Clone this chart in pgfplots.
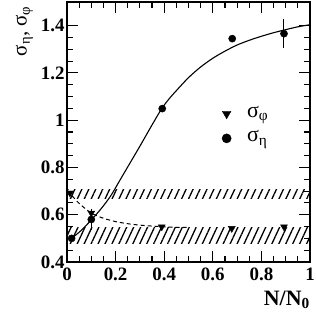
\documentclass[border=0pt]{standalone}
\usepackage{fontspec}
\setmainfont{Liberation Serif}
\usepackage{pgfplots}
\pgfplotsset{compat=1.18}
\usetikzlibrary{patterns.meta}
\begin{document}
\begin{tikzpicture}
\begin{axis}[
  scale only axis, width=243bp, height=260bp,
  xmin=0, xmax=1, ymin=0.4, ymax=1.5,
  xtick={0,0.2,0.4,0.6,0.8,1},
  ytick={0.4,0.6,0.8,1,1.2,1.4},
  minor x tick num=3, minor y tick num=3,
  tick align=inside, ticks=both,
  xtick pos=both, ytick pos=both,
  major tick length=11bp, minor tick length=6bp,
  axis line style={line width=1.3bp},
  every tick/.style={line width=1.1bp, black},
  /pgf/number format/assume math mode=true,
  tick label style={font=\bfseries\fontsize{19}{19}\selectfont},
  xticklabel style={yshift=-2bp},
  yticklabel style={xshift=1bp},
  clip=false,
]
% hatched bands
\addplot[draw=none, pattern={Lines[angle=65,distance=6.3bp,line width=1.3bp]}]
  coordinates {(0,0.67) (1,0.67) (1,0.708) (0,0.708)} -- cycle;
\addplot[draw=none, pattern={Lines[angle=65,distance=6.3bp,line width=1.3bp]}]
  coordinates {(0,0.48) (1,0.48) (1,0.548) (0,0.548)} -- cycle;
% dashed fit
\addplot[black, line width=1bp, dash pattern=on 4bp off 3bp, smooth] coordinates {
 (0,0.70) (0.012,0.69) (0.05,0.648) (0.1,0.607) (0.15,0.585) (0.2,0.571)
 (0.25,0.562) (0.3,0.556) (0.35,0.552) (0.4,0.549) (0.45,0.547) (0.5,0.546)};
% solid fit
\addplot[black, line width=1.1bp, smooth] coordinates {
 (0.019,0.50) (0.06,0.535) (0.1,0.578) (0.14,0.625) (0.18,0.68) (0.22,0.75)
 (0.26,0.82) (0.3,0.89) (0.35,0.98) (0.39,1.049) (0.42,1.09) (0.45,1.125)
 (0.5,1.18) (0.55,1.225) (0.6,1.262) (0.65,1.292) (0.7,1.318) (0.75,1.338)
 (0.8,1.355) (0.85,1.370) (0.9,1.383) (0.95,1.395) (1.0,1.404)};
% sigma_phi
\addplot[only marks, mark=triangle*, mark size=4bp, mark options={rotate=180, fill=black}]
 coordinates {(0.012,0.692) (0.1,0.607) (0.39,0.549) (0.678,0.542) (0.893,0.549)};
% sigma_eta
\addplot[only marks, mark=*, mark size=3.6bp, mark options={fill=black},
  error bars/.cd, y dir=both, y explicit, error mark=none,
  error bar style={line width=1bp}]
 coordinates {(0.019,0.50) +- (0,0) (0.10,0.58) +- (0,0.045) (0.392,1.049) +- (0,0)
   (0.68,1.345) +- (0,0) (0.893,1.366) +- (0,0.06)};
% legend
\addplot[only marks, mark=triangle*, mark size=5bp, mark options={rotate=180, fill=black}]
 coordinates {(0.657,1.027)};
\addplot[only marks, mark=*, mark size=4.6bp, mark options={fill=black}]
 coordinates {(0.657,0.923)};
\node[anchor=west, font=\fontsize{22}{22}\selectfont, inner sep=0] at (axis cs:0.74,1.022) {σ\textsubscript{φ}};
\node[anchor=west, font=\fontsize{22}{22}\selectfont, inner sep=0] at (axis cs:0.74,0.918) {σ\textsubscript{η}};
% labels
\node[anchor=north east, inner sep=0, font=\bfseries\fontsize{22}{22}\selectfont] at (rel axis cs:1,0) [yshift=-29bp] {N/N\textsubscript{0}};
\node[anchor=east, rotate=90, inner sep=0, font=\fontsize{21}{21}\selectfont] at (rel axis cs:-0.175,0.985) {σ\textsubscript{η}, σ\textsubscript{φ}};
\end{axis}
\pgfresetboundingbox
\path (-67bp,-58bp) rectangle (249bp,262bp);
\end{tikzpicture}
\end{document}
